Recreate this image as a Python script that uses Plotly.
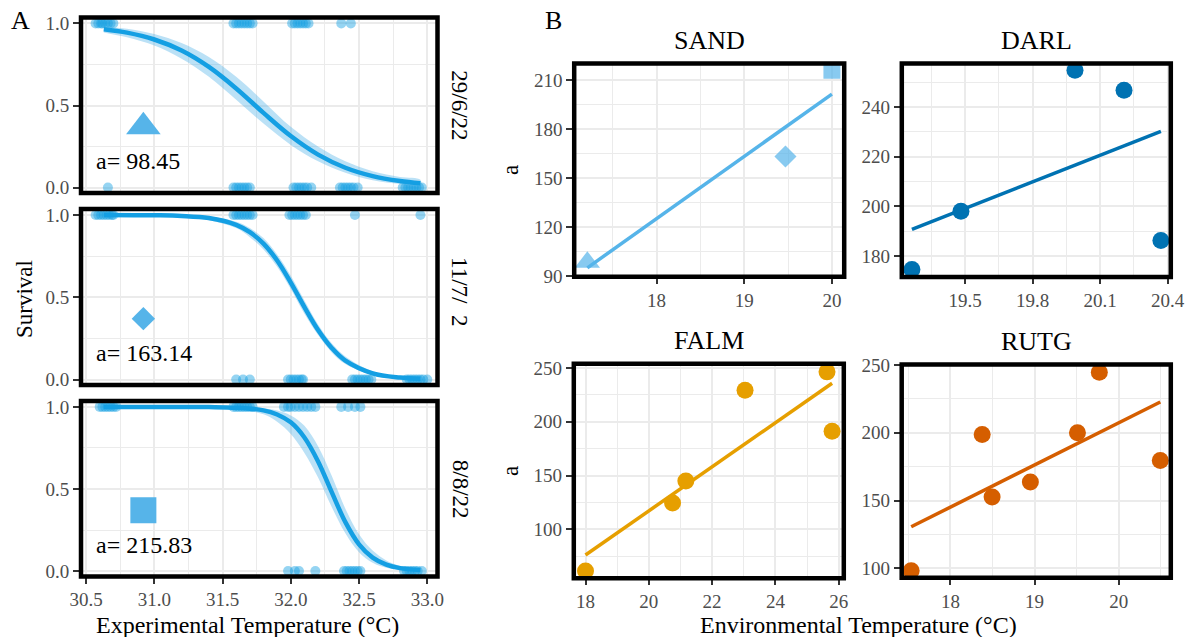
import numpy as np
import plotly.graph_objects as go

# ---------------- DATA ----------------
# Panel A: survival trials per sampling date
dates = ["29/6/22", "11/7/  2", "8/8/22"]
a_values = [98.45, 163.14, 215.83]

alive_temps_1 = [30.57, 30.59, 30.61, 30.62, 30.64, 30.66, 30.68, 30.70,
                 31.58, 31.60, 31.62, 31.64, 31.66, 31.68, 31.70, 31.72,
                 32.01, 32.03, 32.05, 32.07, 32.09, 32.11, 32.13,
                 32.37, 32.44]
dead_temps_1 = [30.66,
                31.58, 31.60, 31.62, 31.64, 31.66, 31.68, 31.70,
                32.02, 32.04, 32.06, 32.08, 32.10, 32.12, 32.15,
                32.36, 32.38, 32.40, 32.42, 32.44, 32.46, 32.49,
                32.82, 32.84, 32.86, 32.88, 32.90, 32.92, 32.94, 32.96]
alive_temps_2 = [30.57, 30.59, 30.61, 30.63, 30.65, 30.67, 30.69, 30.70,
                 31.58, 31.60, 31.62, 31.64, 31.66, 31.68, 31.70, 31.72,
                 31.99, 32.01, 32.03, 32.05, 32.07, 32.09, 32.11,
                 32.47, 32.95]
dead_temps_2 = [31.60, 31.65, 31.70,
                31.98, 32.00, 32.02, 32.04, 32.06, 32.08, 32.09,
                32.45, 32.47, 32.49, 32.51, 32.53, 32.55, 32.57, 32.59,
                32.85, 32.87, 32.89, 32.91, 32.93, 32.95, 32.97, 33.00]
alive_temps_3 = [30.60, 30.62, 30.64, 30.66, 30.68, 30.70, 30.72,
                 31.58, 31.60, 31.62, 31.64, 31.66, 31.68, 31.70, 31.72,
                 31.95, 31.98, 32.00, 32.03, 32.06, 32.09, 32.12, 32.15, 32.18,
                 32.37, 32.42, 32.47, 32.51]
dead_temps_3 = [31.98, 32.03, 32.06, 32.18,
                32.39, 32.41, 32.43, 32.45, 32.47, 32.49, 32.51,
                32.83, 32.85, 32.87, 32.89, 32.91, 32.93, 32.96]

# fitted survival curves with confidence band
curve_t1 = [30.63, 30.8, 31.0, 31.2, 31.4, 31.6, 31.8, 32.0, 32.2, 32.4, 32.6, 32.8, 32.95]
curve_m1 = [0.965, 0.944, 0.902, 0.835, 0.735, 0.604, 0.455, 0.314, 0.201, 0.121, 0.070, 0.040, 0.026]
curve_l1 = [0.945, 0.915, 0.865, 0.785, 0.675, 0.535, 0.390, 0.260, 0.160, 0.090, 0.045, 0.022, 0.012]
curve_u1 = [0.978, 0.968, 0.935, 0.880, 0.795, 0.675, 0.525, 0.370, 0.250, 0.160, 0.100, 0.065, 0.048]

curve_t2 = [30.63, 31.0, 31.2, 31.4, 31.6, 31.7, 31.8, 31.9, 32.0, 32.1, 32.2, 32.3, 32.4, 32.6, 32.8, 32.95]
curve_m2 = [1.0, 0.998, 0.994, 0.981, 0.940, 0.895, 0.826, 0.723, 0.589, 0.440, 0.301, 0.192, 0.115, 0.038, 0.012, 0.005]
curve_l2 = [0.999, 0.995, 0.988, 0.968, 0.920, 0.865, 0.790, 0.685, 0.550, 0.400, 0.270, 0.165, 0.095, 0.028, 0.007, 0.002]
curve_u2 = [1.0, 0.999, 0.997, 0.990, 0.958, 0.920, 0.860, 0.760, 0.630, 0.480, 0.335, 0.220, 0.140, 0.050, 0.018, 0.009]

curve_t3 = [30.63, 31.0, 31.4, 31.6, 31.8, 31.9, 32.0, 32.1, 32.2, 32.3, 32.4, 32.5, 32.6, 32.7, 32.8, 32.95]
curve_m3 = [1.0, 1.0, 0.999, 0.995, 0.979, 0.954, 0.906, 0.814, 0.668, 0.481, 0.298, 0.163, 0.082, 0.039, 0.018, 0.006]
curve_l3 = [1.0, 0.999, 0.997, 0.988, 0.955, 0.910, 0.835, 0.720, 0.570, 0.390, 0.230, 0.115, 0.050, 0.020, 0.008, 0.002]
curve_u3 = [1.0, 1.0, 1.0, 0.998, 0.992, 0.978, 0.948, 0.885, 0.760, 0.580, 0.380, 0.225, 0.125, 0.065, 0.032, 0.012]

# Panel B: a vs environmental temperature per site
sites = ["SAND", "DARL", "FALM", "RUTG"]
sand_temp = [17.21, 19.47, 20.0]
sand_a = a_values
darl_temp = [19.263, 19.481, 19.988, 20.206, 20.370]
darl_a = [174.6, 198.1, 254.8, 246.7, 186.3]
falm_temp = [18.0, 20.75, 21.17, 23.04, 25.63, 25.79]
falm_a = [61.3, 124.4, 144.8, 229.3, 246.3, 191.2]
rutg_temp = [17.533, 18.377, 18.495, 18.95, 19.51, 19.77, 20.495]
rutg_a = [98.2, 198.75, 152.6, 163.7, 200.0, 244.6, 179.6]

# ---------------- STYLE / LAYOUT ----------------
W, H = 1189, 637
FONT = "Liberation Serif"
SKY = "#56B4E9"
BLUE = "#0072B2"
ORANGE = "#E69F00"
VERM = "#D55E00"
CURVE = "#149FE3"
GRID = "#EBEBEB"
TICKC = "#4D4D4D"


def px(x):
    return x / W


def py(y):
    return 1 - y / H


fig = go.Figure()

A_x = [81, 437.5]
A_y = [(17.5, 193), (209, 385), (401, 576.5)]
B_dom = {
    "SAND": ((574.2, 844.2), (63.5, 276.7)),
    "DARL": ((901.8, 1170.8), (63.5, 277.0)),
    "FALM": ((573.8, 843.8), (363.8, 578.3)),
    "RUTG": ((901.7, 1170.8), (364.5, 577.7)),
}

alive = [alive_temps_1, alive_temps_2, alive_temps_3]
dead = [dead_temps_1, dead_temps_2, dead_temps_3]
curves = [(curve_t1, curve_m1, curve_l1, curve_u1),
          (curve_t2, curve_m2, curve_l2, curve_u2),
          (curve_t3, curve_m3, curve_l3, curve_u3)]
symbols = ["triangle-up", "diamond", "square"]
symA_size = [30, 18, 26]
symB_size = [22, 17, 17]

for i in range(3):
    xa = "x" if i == 0 else f"x{i+1}"
    ya = "y" if i == 0 else f"y{i+1}"
    t, m, lo, up = curves[i]
    fig.add_trace(go.Scatter(x=alive[i] + dead[i], y=[1] * len(alive[i]) + [0] * len(dead[i]),
                             mode="markers", xaxis=xa, yaxis=ya,
                             marker=dict(size=10, color=CURVE, opacity=0.45, line=dict(width=0)),
                             showlegend=False, hoverinfo="skip"))
    fig.add_trace(go.Scatter(x=t + t[::-1], y=up + lo[::-1], fill="toself", mode="lines",
                             line=dict(width=0, shape="spline"), fillcolor="rgba(86,180,233,0.4)",
                             xaxis=xa, yaxis=ya, showlegend=False, hoverinfo="skip"))
    fig.add_trace(go.Scatter(x=t, y=m, mode="lines", line=dict(color=CURVE, width=4.5, shape="spline"),
                             xaxis=xa, yaxis=ya, showlegend=False, hoverinfo="skip"))
    fig.add_trace(go.Scatter(x=[30.92], y=[0.37], mode="markers", xaxis=xa, yaxis=ya,
                             marker=dict(symbol=symbols[i], size=symA_size[i], color=SKY, line=dict(width=0)),
                             showlegend=False, hoverinfo="skip"))
    fig.add_annotation(x=30.56, y=0.16, xref=xa, yref=ya, text=f"a= {a_values[i]:.2f}", showarrow=False,
                       xanchor="left", yanchor="middle", font=dict(family=FONT, size=24, color="black"))

site_data = {
    "SAND": (sand_temp, sand_a, SKY, symbols, symB_size),
    "DARL": (darl_temp, darl_a, BLUE, None, None),
    "FALM": (falm_temp, falm_a, ORANGE, None, None),
    "RUTG": (rutg_temp, rutg_a, VERM, None, None),
}
for k, s in enumerate(sites):
    xa = f"x{k+4}"
    ya = f"y{k+4}"
    tx, ay, col, syms, sizes = site_data[s]
    slope, icpt = np.polyfit(tx, ay, 1)
    xl = np.array([min(tx), max(tx)])
    fig.add_trace(go.Scatter(x=xl, y=slope * xl + icpt, mode="lines", line=dict(color=col, width=3.5),
                             xaxis=xa, yaxis=ya, showlegend=False, hoverinfo="skip"))
    fig.add_trace(go.Scatter(x=tx, y=ay, mode="markers", xaxis=xa, yaxis=ya,
                             marker=dict(symbol=syms if syms else "circle", size=sizes if sizes else 17,
                                         color=col, line=dict(width=0)),
                             showlegend=False, hoverinfo="skip"))


def axis(domain, rng, dtick, tick0, mdtick, fmt, labels=True, tl=7):
    d = dict(domain=domain, range=rng, dtick=dtick, tick0=tick0, tickformat=fmt,
             showgrid=True, gridcolor=GRID, gridwidth=2, zeroline=False, showline=False,
             ticks="outside" if labels else "", ticklen=tl, tickwidth=1.5, tickcolor="#333333",
             showticklabels=labels, tickfont=dict(family=FONT, size=19, color=TICKC),
             minor=dict(dtick=mdtick, tick0=tick0, showgrid=True, gridcolor=GRID, gridwidth=1, ticks=""),
             fixedrange=True, automargin=False)
    return d


lay = {}
for i in range(3):
    xk = "xaxis" if i == 0 else f"xaxis{i+1}"
    yk = "yaxis" if i == 0 else f"yaxis{i+1}"
    xa = "x" if i == 0 else f"x{i+1}"
    ya = "y" if i == 0 else f"y{i+1}"
    lay[xk] = axis([px(A_x[0]), px(A_x[1])], [30.463, 33.075], 0.5, 30.5, 0.25, ".1f",
                   labels=(i == 2), tl=6)
    lay[xk]["anchor"] = ya
    y0, y1 = A_y[i]
    lay[yk] = axis([py(y1), py(y0)], [-0.033, 1.036], 0.5, 0, 0.25, ".1f")
    lay[yk]["anchor"] = xa

B_ranges = {
    "SAND": ([17.06, 20.14], [89.6, 220.0], 1, 18, 0.5, "d", 30, 90, 15),
    "DARL": ([19.218, 20.414], [171.6, 257.5], 0.3, 19.5, 0.15, ".1f", 20, 180, 10),
    "FALM": ([17.63, 26.16], [54.5, 253.8], 2, 18, 1, "d", 50, 100, 25),
    "RUTG": ([17.42, 20.62], [93.1, 250.3], 1, 18, 0.5, "d", 50, 100, 25),
}
for k, s in enumerate(sites):
    (x0, x1), (y0, y1) = B_dom[s]
    xr, yr, xd, xt0, xm, xf, yd, yt0, ym = B_ranges[s]
    lay[f"xaxis{k+4}"] = axis([px(x0), px(x1)], xr, xd, xt0, xm, xf, tl=6)
    lay[f"xaxis{k+4}"]["anchor"] = f"y{k+4}"
    lay[f"yaxis{k+4}"] = axis([py(y1), py(y0)], yr, yd, yt0, ym, "d")
    lay[f"yaxis{k+4}"]["anchor"] = f"x{k+4}"

fig.update_layout(**lay)

# panel borders
shapes = []
for (y0, y1) in A_y:
    shapes.append(dict(type="rect", xref="paper", yref="paper", x0=px(A_x[0]), x1=px(A_x[1]),
                       y0=py(y1), y1=py(y0), line=dict(color="black", width=4.5), layer="above"))
for s in sites:
    (x0, x1), (y0, y1) = B_dom[s]
    shapes.append(dict(type="rect", xref="paper", yref="paper", x0=px(x0), x1=px(x1),
                       y0=py(y1), y1=py(y0), line=dict(color="black", width=4.5), layer="above"))

ann = []


def txt(x, y, t, size, angle=0, color="black"):
    ann.append(dict(x=px(x), y=py(y), xref="paper", yref="paper", text=t, showarrow=False,
                    xanchor="center", yanchor="middle", textangle=angle,
                    font=dict(family=FONT, size=size, color=color)))


txt(20, 21, "A", 26)
txt(553, 21, "B", 26)
for i, (y0, y1) in enumerate(A_y):
    cy = (y0 + y1) / 2
    if i == 1:
        cy = 291
    txt(460, cy, dates[i], 23, angle=90)
for s in sites:
    (x0, x1), (y0, y1) = B_dom[s]
    txt((x0 + x1) / 2, y0 - 23, s, 26)
txt(24, 299, "Survival", 23, angle=-90)
txt(247, 624.5, "Experimental Temperature (°C)", 24)
txt(858, 624.5, "Environmental Temperature (°C)", 24)
txt(510, (B_dom["SAND"][1][0] + B_dom["SAND"][1][1]) / 2, "a", 23, angle=-90)
txt(510, (B_dom["FALM"][1][0] + B_dom["FALM"][1][1]) / 2, "a", 23, angle=-90)

fig.update_layout(shapes=shapes, annotations=list(fig.layout.annotations) + ann,
                  width=W, height=H, margin=dict(l=0, r=0, t=0, b=0, autoexpand=False),
                  paper_bgcolor="white", plot_bgcolor="white",
                  font=dict(family=FONT), showlegend=False)

fig.write_html("out.html", config={"displayModeBar": False})
